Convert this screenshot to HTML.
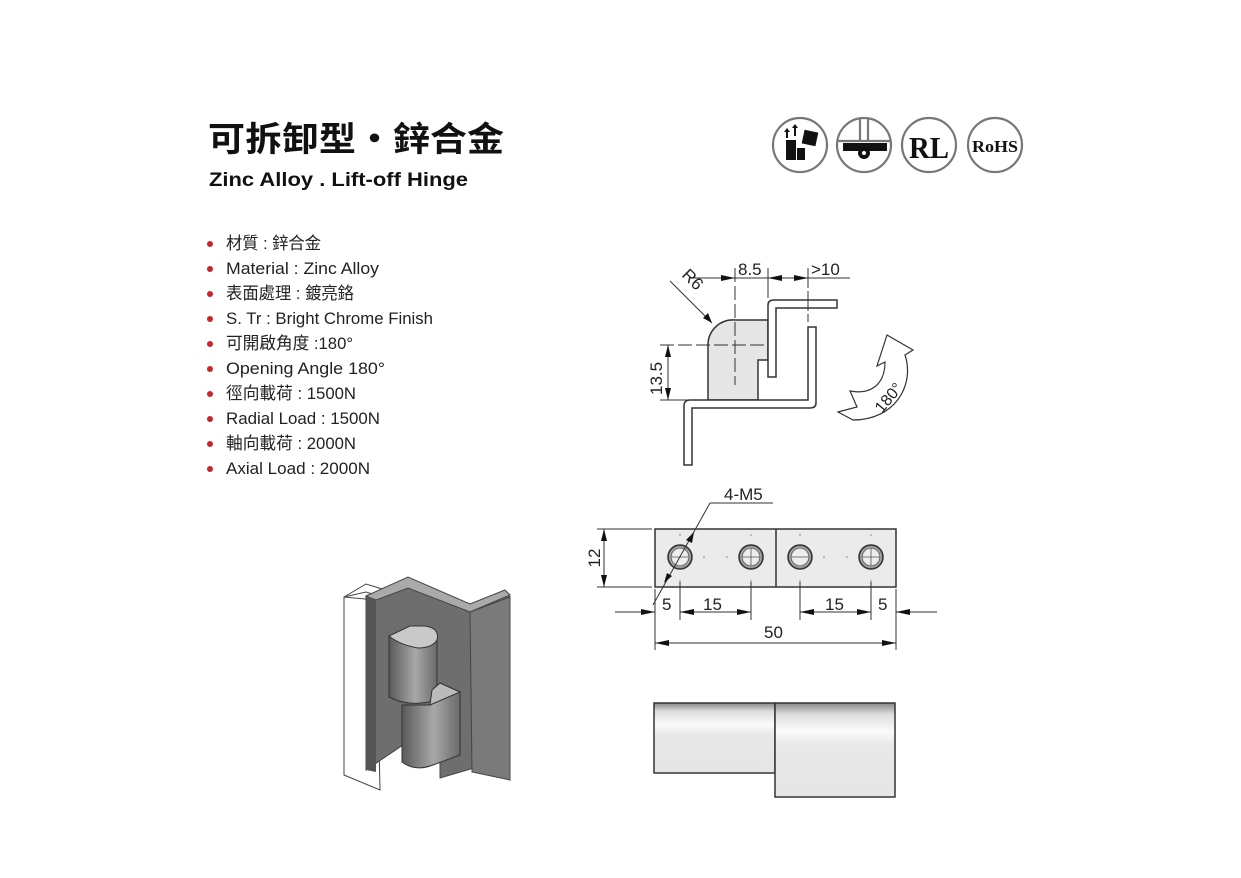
<!DOCTYPE html>
<html><head><meta charset="utf-8"><style>
html,body{margin:0;padding:0;background:#fff}
svg{display:block}
text{font-family:"Liberation Sans","Noto Sans CJK TC",sans-serif}
text.serif{font-family:"Liberation Serif",serif}
</style></head><body>
<svg width="1241" height="878" viewBox="0 0 1241 878" xmlns="http://www.w3.org/2000/svg">
<defs>
<linearGradient id="cyl" x1="0" y1="0" x2="0" y2="1">
<stop offset="0" stop-color="#888"/><stop offset="0.12" stop-color="#ddd"/><stop offset="0.3" stop-color="#fafafa"/><stop offset="0.45" stop-color="#e8e8e8"/><stop offset="1" stop-color="#e6e6e6"/>
</linearGradient>
<radialGradient id="hole" cx="0.5" cy="0.5" r="0.5">
<stop offset="0.6" stop-color="#eee"/><stop offset="1" stop-color="#777"/>
</radialGradient>
<linearGradient id="pin" x1="0" y1="0" x2="1" y2="0">
<stop offset="0" stop-color="#5a5a5a"/><stop offset="0.55" stop-color="#a8a8a8"/><stop offset="1" stop-color="#6a6a6a"/>
</linearGradient>
</defs>

<text x="208" y="151" font-size="34" font-weight="bold" fill="#111" textLength="296" lengthAdjust="spacingAndGlyphs">可拆卸型・鋅合金</text>
<text x="209" y="186" font-size="19" font-weight="bold" fill="#111" textLength="259" lengthAdjust="spacingAndGlyphs">Zinc Alloy . Lift-off Hinge</text>

<g fill="none" stroke="#777" stroke-width="2.2">
<circle cx="800" cy="145" r="27"/><circle cx="864" cy="145" r="27"/><circle cx="929" cy="145" r="27"/><circle cx="995" cy="145" r="27"/>
</g>
<g fill="#111">
<rect x="786" y="140" width="10" height="20"/><rect x="797" y="148" width="8" height="12"/>
<rect x="803" y="131" width="14" height="14" transform="rotate(12 810 138)"/>
<path d="M787 128 l3 4 h-2 v6 h-2 v-6 h-2z M795 124 l3 4 h-2 v8 h-2 v-8 h-2z"/>
</g>
<g stroke="#777" stroke-width="2.2" fill="none"><line x1="860" y1="118" x2="860" y2="141"/><line x1="868" y1="118" x2="868" y2="141"/><line x1="838" y1="141" x2="890" y2="141"/></g>
<rect x="843" y="143" width="44" height="8" fill="#111"/><circle cx="864" cy="153" r="6" fill="#111"/><circle cx="864" cy="153" r="2" fill="#fff"/>
<text class="serif" x="929" y="158" font-size="31" font-weight="bold" text-anchor="middle" fill="#111" textLength="40" lengthAdjust="spacingAndGlyphs">RL</text>
<text class="serif" x="995" y="152" font-size="17" font-weight="bold" text-anchor="middle" fill="#111" textLength="46" lengthAdjust="spacingAndGlyphs">RoHS</text>

<g fill="#c8262a">
<circle cx="210" cy="244" r="3"/><circle cx="210" cy="269" r="3"/><circle cx="210" cy="294" r="3"/><circle cx="210" cy="319" r="3"/><circle cx="210" cy="344" r="3"/><circle cx="210" cy="369" r="3"/><circle cx="210" cy="394" r="3"/><circle cx="210" cy="419" r="3"/><circle cx="210" cy="444" r="3"/><circle cx="210" cy="469" r="3"/>
</g>
<g font-size="17" fill="#222">
<text x="226" y="249" textLength="95" lengthAdjust="spacingAndGlyphs">材質 : 鋅合金</text>
<text x="226" y="274" textLength="153" lengthAdjust="spacingAndGlyphs">Material : Zinc Alloy</text>
<text x="226" y="299" textLength="128" lengthAdjust="spacingAndGlyphs">表面處理 : 鍍亮鉻</text>
<text x="226" y="324" textLength="207" lengthAdjust="spacingAndGlyphs">S. Tr : Bright Chrome Finish</text>
<text x="226" y="349" textLength="127" lengthAdjust="spacingAndGlyphs">可開啟角度 :180°</text>
<text x="226" y="374" textLength="159" lengthAdjust="spacingAndGlyphs">Opening Angle 180°</text>
<text x="226" y="399" textLength="130" lengthAdjust="spacingAndGlyphs">徑向載荷 : 1500N</text>
<text x="226" y="424" textLength="154" lengthAdjust="spacingAndGlyphs">Radial Load : 1500N</text>
<text x="226" y="449" textLength="130" lengthAdjust="spacingAndGlyphs">軸向載荷 : 2000N</text>
<text x="226" y="474" textLength="144" lengthAdjust="spacingAndGlyphs">Axial Load : 2000N</text>
</g>

<g stroke="#333" stroke-width="1.5">
<path d="M708 400 V345 A25 25 0 0 1 735 320 H768 V360 H758 V400 Z" fill="#e6e6e6"/>
<path d="M684 465 V406 Q684 400 690 400 H808 V327 H816 V403 Q816 408 810 408 H692 V465 Z" fill="#fff"/>
<path d="M768 377 V305 Q768 300 774 300 H837 V308 H776 V377 Z" fill="#fff"/>
</g>
<g stroke="#333" stroke-width="1" fill="none">
<line x1="735" y1="268" x2="735" y2="385" stroke-dasharray="14 4"/>
<line x1="660" y1="345" x2="768" y2="345" stroke-dasharray="14 4"/>
<line x1="768" y1="268" x2="768" y2="298"/>
<line x1="808" y1="268" x2="808" y2="322" stroke-dasharray="20 3"/>
<line x1="690" y1="278" x2="850" y2="278"/>
<line x1="670" y1="281" x2="712" y2="323"/>
<line x1="660" y1="400" x2="705" y2="400"/>
<line x1="668" y1="345" x2="668" y2="400"/>
</g>
<g fill="#111">
<path d="M735 278 l-14 -3 v6z"/><path d="M768 278 l14 -3 v6z"/><path d="M808 278 l-14 -3 v6z"/>
<path d="M712 323 l-4 -10 l-5 5z"/>
<path d="M668 345 l-3 12 h6z"/><path d="M668 400 l-3 -12 h6z"/>
</g>
<g font-size="17" fill="#222">
<text x="738" y="275">8.5</text><text x="811" y="275">&gt;10</text>
<text x="676" y="282" transform="rotate(45 686 285)">R6</text>
<text x="662" y="395" transform="rotate(-90 662 395)">13.5</text>
</g>
<path d="M887 335 L913 350 L905 355 C915 385 895 420 853 420 L838 412 L857 407 L850 391 C870 395 885 385 885 362 L877 366 Z" fill="#fff" stroke="#333" stroke-width="1.2"/>
<text x="870" y="412" font-size="16" fill="#222" transform="rotate(-50 878 400)">180°</text>

<rect x="655" y="529" width="241" height="58" fill="#ebebeb" stroke="#333" stroke-width="1.5"/>
<line x1="776" y1="529" x2="776" y2="587" stroke="#333" stroke-width="1.5"/>
<g stroke="#333" stroke-width="1.5" fill="url(#hole)">
<circle cx="680" cy="557" r="12"/><circle cx="751" cy="557" r="12"/><circle cx="800" cy="557" r="12"/><circle cx="871" cy="557" r="12"/>
</g>
<g stroke="#555" stroke-width="0.8">
<circle cx="680" cy="557" r="9" fill="none"/><circle cx="751" cy="557" r="9" fill="none"/><circle cx="800" cy="557" r="9" fill="none"/><circle cx="871" cy="557" r="9" fill="none"/>
<line x1="671" y1="557" x2="689" y2="557"/><line x1="742" y1="557" x2="760" y2="557"/><line x1="791" y1="557" x2="809" y2="557"/><line x1="862" y1="557" x2="880" y2="557"/>
<line x1="751" y1="548" x2="751" y2="566"/><line x1="871" y1="548" x2="871" y2="566"/>
</g>
<g stroke="#333" stroke-width="1" fill="none">
<line x1="597" y1="529" x2="652" y2="529"/><line x1="597" y1="587" x2="652" y2="587"/>
<line x1="604" y1="529" x2="604" y2="587"/>
<line x1="655" y1="589" x2="655" y2="650"/><line x1="896" y1="589" x2="896" y2="650"/>
<line x1="680" y1="582" x2="680" y2="620"/><line x1="751" y1="582" x2="751" y2="620"/>
<line x1="800" y1="582" x2="800" y2="620"/><line x1="871" y1="582" x2="871" y2="620"/>
<line x1="615" y1="612" x2="655" y2="612"/><line x1="680" y1="612" x2="751" y2="612"/>
<line x1="800" y1="612" x2="871" y2="612"/><line x1="896" y1="612" x2="937" y2="612"/>
<line x1="655" y1="643" x2="896" y2="643"/>
<line x1="710" y1="503" x2="773" y2="503"/><line x1="710" y1="503" x2="653" y2="605"/>
</g>
<g fill="#111">
<path d="M604 529 l-3 12 h6z"/><path d="M604 587 l-3 -12 h6z"/>
<path d="M655 612 l-14 -3 v6z"/><path d="M680 612 l14 -3 v6z"/><path d="M751 612 l-14 -3 v6z"/>
<path d="M800 612 l14 -3 v6z"/><path d="M871 612 l-14 -3 v6z"/><path d="M896 612 l14 -3 v6z"/>
<path d="M655 643 l14 -3 v6z"/><path d="M896 643 l-14 -3 v6z"/>
<path d="M694 532 l-8 8 l6 3z"/><path d="M664 583 l3 -10 l5 3z"/>
</g>
<g font-size="17" fill="#222">
<text x="724" y="500">4-M5</text>
<text x="600" y="566" transform="rotate(-90 600 566)" text-anchor="middle" dx="8">12</text>
<text x="662" y="610">5</text><text x="703" y="610">15</text>
<text x="825" y="610">15</text><text x="878" y="610">5</text>
<text x="764" y="638">50</text>
</g>
<g fill="#999"><circle cx="680" cy="535" r="0.9"/><circle cx="751" cy="535" r="0.9"/><circle cx="800" cy="535" r="0.9"/><circle cx="871" cy="535" r="0.9"/><circle cx="680" cy="581" r="0.9"/><circle cx="751" cy="581" r="0.9"/><circle cx="800" cy="581" r="0.9"/><circle cx="871" cy="581" r="0.9"/><circle cx="704" cy="557" r="0.9"/><circle cx="727" cy="557" r="0.9"/><circle cx="824" cy="557" r="0.9"/><circle cx="847" cy="557" r="0.9"/></g>

<rect x="654" y="703" width="121" height="70" fill="url(#cyl)" stroke="#333" stroke-width="1.5"/>
<rect x="775" y="703" width="120" height="94" fill="url(#cyl)" stroke="#333" stroke-width="1.5"/>

<!-- 3D hinge -->
<path d="M344 597 L344 775 L380 790 L376 600 Z" fill="#fff" stroke="#444" stroke-width="1"/>
<path d="M344 597 L366 592 L408 605 L408 597 L366 584 Z" fill="none" stroke="#444" stroke-width="1"/>
<path d="M366 596 L408 580 L470 608 L505 592 L510 597 L510 780 L474 768 L440 778 L440 720 L366 770 Z" fill="#6e6e6e" stroke="#444" stroke-width="1"/>
<path d="M366 596 L408 577 L470 604 L505 590 L510 595 L470 612 L408 588 L376 600 Z" fill="#aaa" stroke="#444" stroke-width="1"/>
<path d="M366 596 L376 600 L376 772 L366 770 Z" fill="#555"/>
<path d="M470 612 L472 772 L510 780 L510 597 Z" fill="#7a7a7a" stroke="#444" stroke-width="1"/>
<path d="M389 636 L389 697 Q410 708 437 700 L437 638 Z" fill="url(#pin)" stroke="#333" stroke-width="1"/>
<path d="M389 636 L410 626 L425 626 Q440 628 437 640 Q432 648 418 648 Q400 645 389 636 Z" fill="#c9c9c9" stroke="#333" stroke-width="1"/>
<path d="M402 705 L402 762 Q415 772 433 765 L460 755 L460 692 L440 683 L430 705 Z" fill="url(#pin)" stroke="#333" stroke-width="1"/>
<path d="M430 705 L460 692 L440 683 L432 690 Z" fill="#bbb" stroke="#333" stroke-width="1"/>
</svg>
</body></html>
